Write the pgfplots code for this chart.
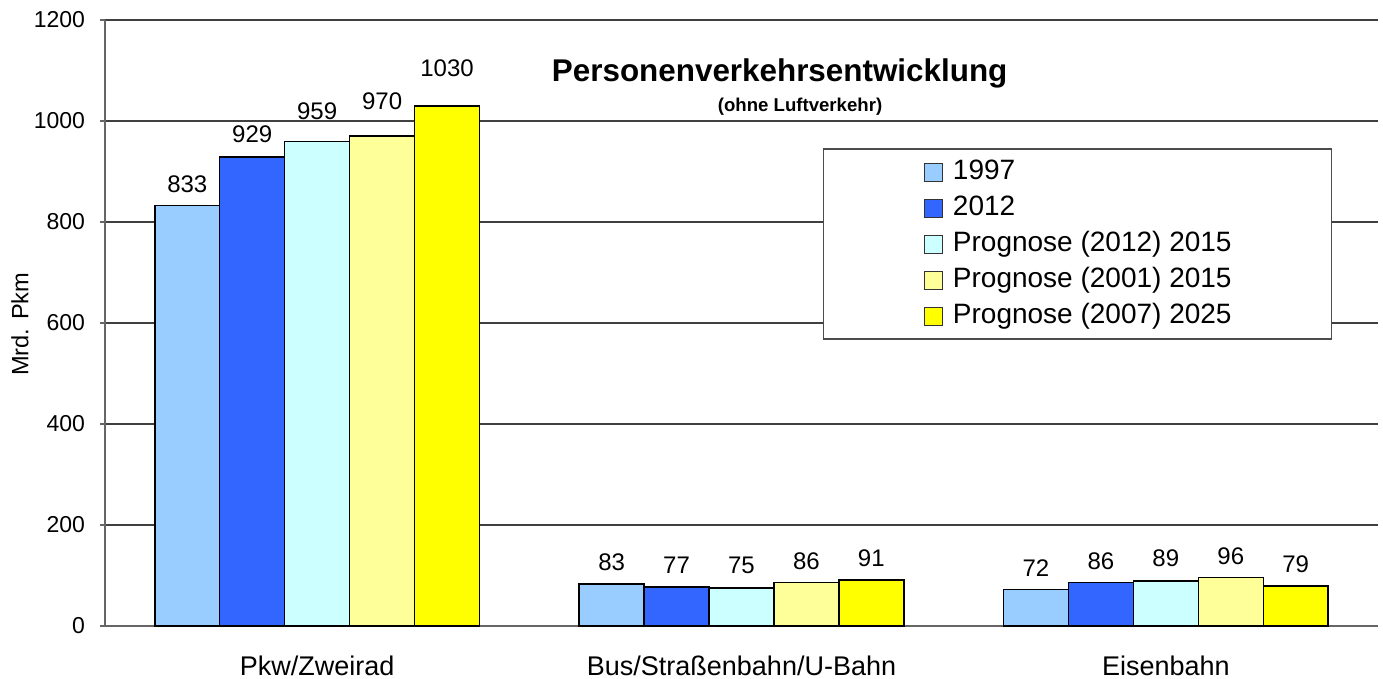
\documentclass[border=0pt]{standalone}
\usepackage{pgfplots}
\usepackage{pgfplotstable}
\pgfplotsset{compat=1.18}
\usepackage{fontspec}
\setmainfont{Liberation Sans}
\definecolor{cA}{HTML}{99CCFF}
\definecolor{cB}{HTML}{3366FF}
\definecolor{cC}{HTML}{CCFFFF}
\definecolor{cD}{HTML}{FFFF99}
\definecolor{cE}{HTML}{FFFF00}
% x = category index, y = Mrd. Pkm, off = extra label lift (pt)
\pgfplotstableread{
x y off
0 833 0
1 83 0
2 72 0
}\tA
\pgfplotstableread{
x y off
0 929 0.5
1 77 0.5
2 86 0
}\tB
\pgfplotstableread{
x y off
0 959 4.5
1 75 0.5
2 89 0.5
}\tC
\pgfplotstableread{
x y off
0 970 6.5
1 86 0
2 96 0
}\tD
\pgfplotstableread{
x y off
0 1030 8
1 91 0
2 79 0
}\tE
\pgfplotsset{
  sqleg/.style={legend image code/.code={\draw[##1,draw=black!80,line width=0.6pt] (0pt,-4.5pt) rectangle (9pt,4.5pt); \path (14pt,0pt);}},
  mybar/.style={draw=black, line width=0.7pt, sqleg},
}
\begin{document}
\begin{tikzpicture}
\useasboundingbox (-52.5pt,-26.5pt) rectangle (639pt,313pt);
\begin{axis}[
  at={(0pt,0pt)}, anchor=south west,
  scale only axis, width=636.5pt, height=303pt,
  ybar=0pt, bar width=0.153,
  visualization depends on={\thisrow{off} \as \off},
  nodes near coords,
  every node near coord/.append style={font=\fontsize{12}{14}\selectfont, black, yshift=2.8pt+\off pt},
  xmin=-0.5, xmax=2.5, ymin=0, ymax=1200,
  axis x line=bottom, axis y line=left,
  axis line style={-, black!60, line width=0.8pt},
  ytick={0,200,...,1200},
  ymajorgrids, grid style={black!75, line width=0.6pt},
  tick align=outside,
  tick style={black!60, line width=0.8pt},
  major tick length=2.5pt,
  xtick={0,1,2},
  xticklabels={Pkw/Zweirad, Bus/Straßenbahn/U-Bahn, Eisenbahn},
  x tick style={draw=none},
  extra x ticks={-0.5,0.5,1.5,2.5},
  extra x tick labels={},
  extra x tick style={major tick length=5pt, tick style={draw=black!60, line width=0.8pt}},
  xticklabel style={font=\fontsize{13.5}{15}\selectfont, anchor=north, yshift=-9pt},
  yticklabel style={font=\fontsize{11.5}{13}\selectfont, xshift=-4pt},
  /pgf/number format/1000 sep={},
  /pgf/number format/assume math mode=true,
  ylabel={Mrd. Pkm},
  ylabel style={font=\fontsize{11.8}{14}\selectfont, at={(axis description cs:-0.0668,0.498)}, anchor=center},
  legend style={at={(0.564,0.788)}, anchor=north west, draw=black!70, line width=0.7pt, fill=white,
    font=\fontsize{14}{16}\selectfont, inner xsep=50pt, inner ysep=5pt,
    row sep=5pt, cells={anchor=west},
    nodes={text height=10pt, text depth=3pt, inner sep=0pt}},
  legend cell align=left,
  clip=false,
]
\addplot[mybar, fill=cA] table[x=x, y=y] {\tA};
\addplot[mybar, fill=cB] table[x=x, y=y] {\tB};
\addplot[mybar, fill=cC] table[x=x, y=y] {\tC};
\addplot[mybar, fill=cD] table[x=x, y=y] {\tD};
\addplot[mybar, fill=cE] table[x=x, y=y] {\tE};
\legend{1997, 2012, Prognose (2012) 2015, Prognose (2001) 2015, Prognose (2007) 2025}
\node[font=\bfseries\fontsize{15.7}{18}\selectfont] at (axis description cs:0.530,0.911) {Personenverkehrsentwicklung};
\node[font=\bfseries\fontsize{9.3}{11}\selectfont] at (axis description cs:0.546,0.857) {(ohne Luftverkehr)};
\end{axis}
\end{tikzpicture}
\end{document}
